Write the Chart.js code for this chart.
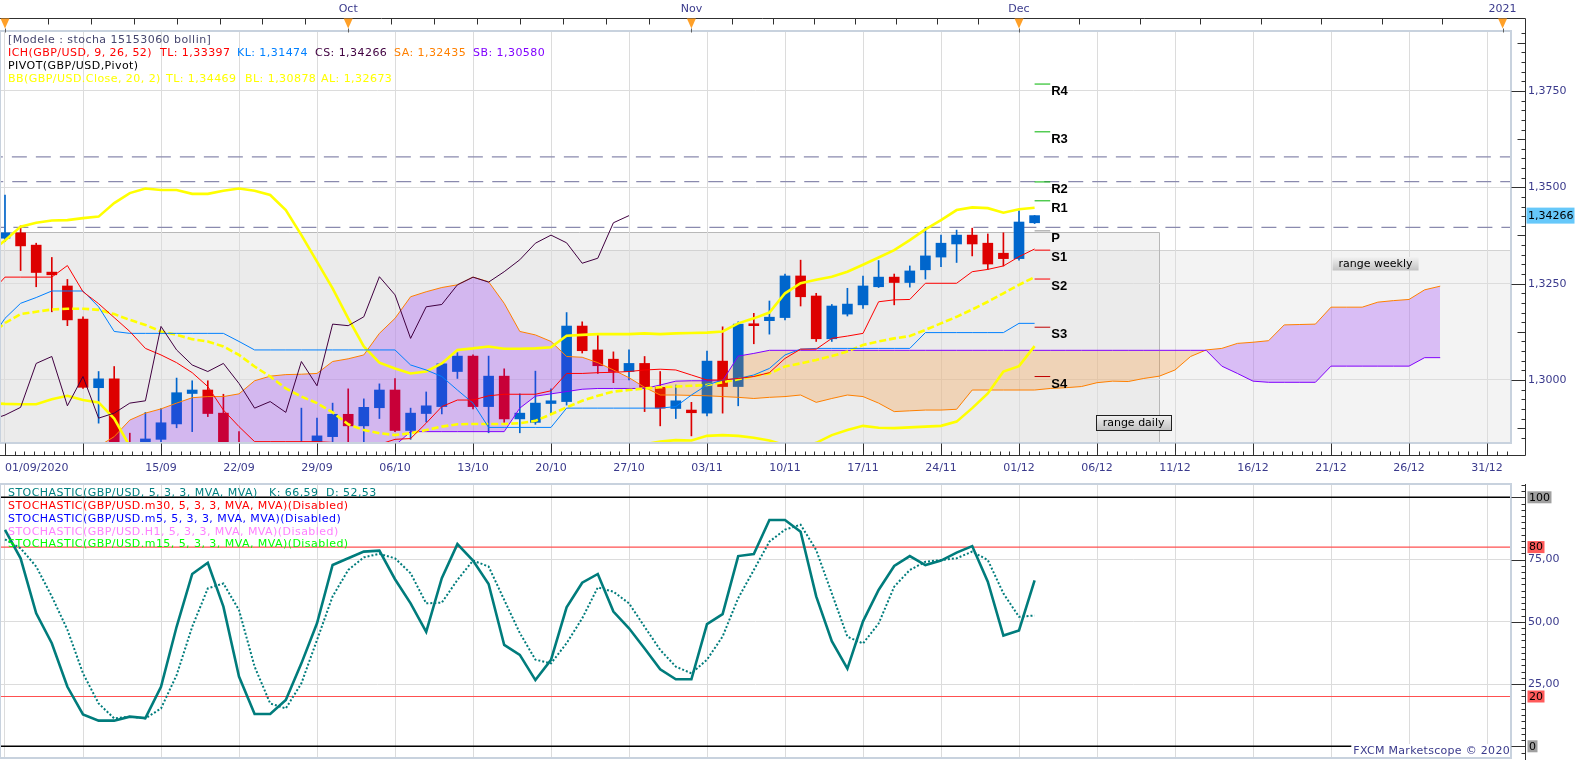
<!DOCTYPE html>
<html><head><meta charset="utf-8">
<title>GBP/USD daily – Ichimoku, Bollinger, Pivot, Stochastic</title>
<script src="https://cdn.jsdelivr.net/npm/chart.js@4.4.1/dist/chart.umd.min.js"></script>
<style>
html,body{margin:0;padding:0;background:#fff;}
#wrap{position:relative;width:1583px;height:760px;overflow:hidden;background:#fff;}
canvas{position:absolute;left:0;}
#c1{top:0;}
#c2{top:480px;}
.lg{position:absolute;font-family:"DejaVu Sans",sans-serif;font-size:11px;letter-spacing:0.45px;white-space:nowrap;line-height:13px;height:13px;}
</style></head>
<body><div id="wrap">
<canvas id="c1" width="1583" height="480"></canvas>
<canvas id="c2" width="1583" height="280"></canvas>

<div class="lg" style="left:8px;top:32.5px;color:#46466e">[Modele : stocha 15153060 bollin]</div>
<div class="lg" style="left:8px;top:45.5px;color:#ff0000">ICH(GBP/USD, 9, 26, 52)</div>
<div class="lg" style="left:160px;top:45.5px;color:#ff0000">TL: 1,33397</div>
<div class="lg" style="left:237px;top:45.5px;color:#0080ff">KL: 1,31474</div>
<div class="lg" style="left:315px;top:45.5px;color:#400040">CS: 1,34266</div>
<div class="lg" style="left:394px;top:45.5px;color:#ff8000">SA: 1,32435</div>
<div class="lg" style="left:473px;top:45.5px;color:#8000ff">SB: 1,30580</div>
<div class="lg" style="left:8px;top:58.5px;color:#000000">PIVOT(GBP/USD,Pivot)</div>
<div class="lg" style="left:8px;top:71.5px;color:#ffff00">BB(GBP/USD.Close, 20, 2)</div>
<div class="lg" style="left:166px;top:71.5px;color:#ffff00">TL: 1,34469</div>
<div class="lg" style="left:245px;top:71.5px;color:#ffff00">BL: 1,30878</div>
<div class="lg" style="left:321px;top:71.5px;color:#ffff00">AL: 1,32673</div>

<div class="lg" style="left:8px;top:486px;color:#008080">STOCHASTIC(GBP/USD, 5, 3, 3, MVA, MVA)</div>
<div class="lg" style="left:269px;top:486px;color:#008080">K: 66,59</div>
<div class="lg" style="left:326px;top:486px;color:#008080">D: 52,53</div>
<div class="lg" style="left:8px;top:499px;color:#ff0000">STOCHASTIC(GBP/USD.m30, 5, 3, 3, MVA, MVA)(Disabled)</div>
<div class="lg" style="left:8px;top:512px;color:#0000ff">STOCHASTIC(GBP/USD.m5, 5, 3, 3, MVA, MVA)(Disabled)</div>
<div class="lg" style="left:8px;top:524.5px;color:#ff80ff">STOCHASTIC(GBP/USD.H1, 5, 3, 3, MVA, MVA)(Disabled)</div>
<div class="lg" style="left:8px;top:537px;color:#00ff00">STOCHASTIC(GBP/USD.m15, 5, 3, 3, MVA, MVA)(Disabled)</div>
</div>

<script>
// ======================= DATA =======================
// x = trading-bar index (0 = 01/09/2020, 65 = 01/12/2020), future bars one per day
const xTickIdx    = [0,5,10,15,20,25,30,35,40,45,50,55,60,65,70,75,80,85,90,95];
const xTickLabels = ['01/09/2020','','15/09','22/09','29/09','06/10','13/10','20/10','27/10','03/11','10/11','17/11','24/11','01/12','06/12','11/12','16/12','21/12','26/12','31/12'];
const monthIdx    = [0,22,44,65,96];
const monthLabels = ['','Oct','Nov','Dec','2021'];
const priceTicks  = [1.3000,1.3250,1.3500,1.3750];
const stochTicks  = [25,50,75];
const stochLevels = [100,80,20,0];

// daily candles, bars 0..66
const open = [1.3368,1.3382,1.3350,1.3280,1.3244,1.3158,1.2980,1.3003,1.2795,1.2793,
 1.2846,1.2886,1.2965,1.2974,1.2914,1.2795,1.2733,1.2727,1.2747,1.2760,
 1.2815,1.2853,1.2911,1.2881,1.2928,1.2974,1.2869,1.2913,1.2931,1.3022,
 1.3062,1.2931,1.3010,1.2899,1.2890,1.2939,1.2944,1.3140,1.3078,1.3054,
 1.3022,1.3043,1.2981,1.2926,1.2922,1.2914,1.3049,1.2983,1.3146,1.3154,
 1.3162,1.3270,1.3218,1.3107,1.3171,1.3195,1.3242,1.3267,1.3253,1.3286,
 1.3319,1.3353,1.3376,1.3355,1.3329,1.3315,1.3408];
const high = [1.3480,1.3400,1.3355,1.3318,1.3261,1.3164,1.3022,1.3035,1.2862,1.2916,
 1.2926,1.3005,1.2998,1.2998,1.2963,1.2866,1.2805,1.2775,1.2780,1.2927,
 1.2901,1.2940,1.2977,1.2951,1.2990,1.3004,1.2927,1.2969,1.3045,1.3071,
 1.3065,1.3062,1.3029,1.2964,1.3023,1.2977,1.3175,1.3151,1.3119,1.3073,
 1.3078,1.3061,1.3022,1.2987,1.2942,1.3075,1.3138,1.3151,1.3173,1.3205,
 1.3275,1.3311,1.3225,1.3196,1.3238,1.3270,1.3310,1.3275,1.3296,1.3396,
 1.3376,1.3389,1.3394,1.3379,1.3382,1.3439,1.3427];
const low = [1.3359,1.3284,1.3242,1.3177,1.3141,1.2978,1.2888,1.2762,1.2760,1.2780,
 1.2830,1.2876,1.2866,1.2905,1.2765,1.2720,1.2687,1.2690,1.2710,1.2750,
 1.2805,1.2840,1.2820,1.2820,1.2900,1.2866,1.2846,1.2891,1.2912,1.3004,
 1.2925,1.2863,1.2890,1.2863,1.2885,1.2911,1.2935,1.3070,1.3017,1.2993,
 1.3000,1.2918,1.2881,1.2900,1.2855,1.2907,1.2914,1.2933,1.3094,1.3119,
 1.3156,1.3192,1.3100,1.3100,1.3166,1.3186,1.3240,1.3195,1.3241,1.3262,
 1.3294,1.3305,1.3322,1.3287,1.3296,1.3311,1.3406];
const close = [1.3382,1.3348,1.3279,1.3273,1.3156,1.2981,1.3003,1.2795,1.2793,1.2847,
 1.2889,1.2967,1.2974,1.2913,1.2795,1.2733,1.2727,1.2747,1.2760,1.2830,
 1.2855,1.2911,1.2881,1.2929,1.2974,1.2869,1.2914,1.2933,1.3042,1.3062,
 1.2931,1.3010,1.2899,1.2914,1.2940,1.2946,1.3140,1.3076,1.3037,1.3022,
 1.3043,1.2981,1.2927,1.2946,1.2915,1.3049,1.2983,1.3145,1.3141,1.3163,
 1.3270,1.3216,1.3107,1.3192,1.3197,1.3244,1.3267,1.3253,1.3283,1.3322,
 1.3355,1.3376,1.3353,1.3301,1.3315,1.3410,1.34266];

// Ichimoku lines (first value = bar -1)
const tenkan = [1.3222,
 1.3267,1.3267,1.3267,1.3267,1.3297,1.3229,1.3198,1.3162,1.3126,1.3082,
 1.3065,1.3045,1.3019,1.2983,1.2922,1.2879,1.2840,1.2840,1.2840,1.2840,
 1.2840,1.2838,1.2833,1.2833,1.2833,1.2846,1.2848,1.2888,1.2931,1.2948,
 1.2948,1.2959,1.2963,1.2963,1.2963,1.2972,1.3017,1.3017,1.3019,1.3020,
 1.3022,1.3026,1.3028,1.3026,1.3013,1.3000,1.3000,1.3004,1.3009,1.3019,
 1.3056,1.3080,1.3080,1.3108,1.3114,1.3121,1.3203,1.3208,1.3209,1.3251,
 1.3251,1.3251,1.3281,1.3287,1.3296,1.3320,1.3340];
const kijun = [1.3100,
 1.3160,1.3199,1.3214,1.3231,1.3231,1.3231,1.3190,1.3126,1.3121,1.3121,
 1.3121,1.3121,1.3121,1.3121,1.3121,1.3100,1.3078,1.3078,1.3078,1.3078,
 1.3078,1.3078,1.3078,1.3078,1.3078,1.3078,1.3039,1.3026,1.3009,1.2974,
 1.2940,1.2877,1.2877,1.2877,1.2877,1.2877,1.2927,1.2927,1.2927,1.2927,
 1.2927,1.2927,1.2927,1.2931,1.2961,1.2987,1.3000,1.3004,1.3013,1.3030,
 1.3065,1.3080,1.3082,1.3082,1.3082,1.3082,1.3082,1.3082,1.3082,1.3123,
 1.3123,1.3123,1.3123,1.3123,1.3123,1.3147,1.3147];
const chikou = [1.2895,
 1.2909,1.2929,1.3043,1.3061,1.2933,1.3009,1.2901,1.2914,1.2940,1.2946,
 1.3139,1.3078,1.3039,1.3022,1.3043,1.2991,1.2927,1.2944,1.2916,1.3048,
 1.2985,1.3145,1.3141,1.3164,1.3268,1.3221,1.3108,1.3190,1.3196,1.3247,
 1.3267,1.3254,1.3281,1.3312,1.3355,1.3376,1.3356,1.3303,1.3316,1.3408,
 1.34266];
const senkouA = [1.2790,
 1.2790,1.2795,1.2800,1.2805,1.2810,1.2818,1.2828,1.2853,1.2896,1.2914,
 1.2925,1.2940,1.2954,1.2957,1.2957,1.2964,1.2998,1.3010,1.3014,1.3015,
 1.3017,1.3048,1.3055,1.3065,1.3121,1.3160,1.3216,1.3229,1.3240,1.3247,
 1.3267,1.3255,1.3199,1.3126,1.3117,1.3100,1.3061,1.3059,1.3045,1.3026,
 1.3006,1.2981,1.2961,1.2961,1.2960,1.2959,1.2957,1.2955,1.2952,1.2955,
 1.2957,1.2961,1.2942,1.2952,1.2961,1.2957,1.2940,1.2918,1.2920,1.2922,
 1.2922,1.2924,1.2974,1.2974,1.2974,1.2974,1.2974,1.2978,1.2980,1.2983,
 1.2993,1.2997,1.2996,1.3004,1.3010,1.3026,1.3061,1.3078,1.3082,1.3095,
 1.3098,1.3102,1.3143,1.3144,1.3145,1.3189,1.3189,1.3189,1.3202,1.3206,
 1.3209,1.3234,1.32435];
const senkouB = [1.2780,
 1.2780,1.2780,1.2780,1.2780,1.2780,1.2780,1.2780,1.2780,1.2780,1.2780,
 1.2780,1.2780,1.2780,1.2780,1.2780,1.2780,1.2780,1.2780,1.2780,1.2780,
 1.2780,1.2780,1.2780,1.2780,1.2780,1.2830,1.2866,1.2866,1.2866,1.2866,
 1.2866,1.2866,1.2866,1.2927,1.2958,1.2964,1.2970,1.2976,1.2978,1.2978,
 1.2978,1.2978,1.2987,1.2997,1.2998,1.2998,1.2998,1.3062,1.3069,1.3077,
 1.3077,1.3077,1.3077,1.3077,1.3077,1.3077,1.3077,1.3077,1.3077,1.3077,
 1.3077,1.3077,1.3077,1.3077,1.3077,1.3077,1.3077,1.3077,1.3077,1.3077,
 1.3077,1.3077,1.3077,1.3077,1.3077,1.3077,1.3077,1.3077,1.3036,1.3017,
 1.2997,1.2994,1.2994,1.2994,1.2994,1.3036,1.3036,1.3036,1.3036,1.3036,
 1.3036,1.3058,1.3058];

// Bollinger bands (first value = bar -1)
const bbUpper = [1.3330,
 1.3362,1.3398,1.3408,1.3414,1.3415,1.3420,1.3424,1.3459,1.3485,1.3497,
 1.3493,1.3493,1.3483,1.3483,1.3491,1.3497,1.3491,1.3480,1.3441,1.3376,
 1.3307,1.3238,1.3160,1.3087,1.3045,1.3030,1.3017,1.3022,1.3043,1.3078,
 1.3082,1.3087,1.3081,1.3081,1.3082,1.3085,1.3115,1.3117,1.3119,1.3119,
 1.3119,1.3121,1.3119,1.3121,1.3122,1.3123,1.3126,1.3147,1.3160,1.3175,
 1.3225,1.3251,1.3260,1.3268,1.3281,1.3299,1.3318,1.3337,1.3363,1.3391,
 1.3415,1.3441,1.3448,1.3446,1.3434,1.3443,1.3447];
const bbMiddle = [1.3115,
 1.3148,1.3171,1.3177,1.3183,1.3185,1.3185,1.3182,1.3171,1.3156,1.3143,
 1.3126,1.3117,1.3106,1.3100,1.3087,1.3065,1.3035,1.3009,1.2978,1.2957,
 1.2940,1.2916,1.2885,1.2870,1.2862,1.2857,1.2862,1.2870,1.2879,1.2885,
 1.2886,1.2886,1.2886,1.2888,1.2894,1.2911,1.2929,1.2946,1.2959,1.2970,
 1.2974,1.2978,1.2981,1.2983,1.2985,1.2987,1.2994,1.3002,1.3010,1.3017,
 1.3035,1.3043,1.3052,1.3062,1.3074,1.3091,1.3100,1.3108,1.3114,1.3130,
 1.3147,1.3164,1.3183,1.3203,1.3225,1.3247,1.3267];
const bbLower = [1.2940,
 1.2938,1.2937,1.2937,1.2950,1.2959,1.2948,1.2942,1.2900,1.2828,1.2790,
 1.2760,1.2740,1.2730,1.2720,1.2690,1.2640,1.2590,1.2560,1.2540,1.2545,
 1.2560,1.2590,1.2610,1.2650,1.2680,1.2685,1.2700,1.2720,1.2720,1.2690,
 1.2690,1.2690,1.2690,1.2700,1.2705,1.2740,1.2745,1.2775,1.2800,1.2820,
 1.2830,1.2833,1.2840,1.2844,1.2843,1.2855,1.2857,1.2855,1.2850,1.2843,
 1.2831,1.2823,1.2837,1.2857,1.2870,1.2881,1.2876,1.2875,1.2877,1.2879,
 1.2881,1.2892,1.2927,1.2965,1.3022,1.3036,1.3088];

// pivot levels (drawn for bar 66)
const pivotNames  = ['R4','R3','R2','R1','P','S1','S2','S3','S4'];
const pivotValues = [1.3768,1.3644,1.3514,1.3465,1.3387,1.3337,1.3262,1.3137,1.3009];

// dashed reference levels: [before, after] and the bar where they step
const guideA = [1.3575,1.3579]; const guideAStep = 38;
const guideB = [1.3518,1.3515]; const guideBStep = 36;
const guideC = [1.3396,1.3396]; const guideCStep = 0;

// range boxes
const rangeDailyTop = 1.33833;  const rangeDailyEnd = 74;
const rangeWeeklyTop = 1.33366;

// stochastic %K and %D, bars 0..66
const stochK = [86.9,75.5,53.4,41.4,23.9,12.8,10.3,10.3,11.9,11.3,
 23.9,48.0,69.2,73.7,56.1,28.0,13.0,13.0,18.6,33.3,
 49.4,72.8,75.5,78.2,78.6,67.1,57.4,46.0,67.5,81.2,
 74.6,65.2,40.7,36.7,26.6,34.7,55.8,65.7,69.2,54.1,
 47.4,39.3,30.9,26.9,26.9,49.1,53.1,76.4,77.2,90.9,
 90.9,86.2,60.2,42.2,31.2,50.2,62.8,72.4,76.4,72.8,
 74.6,77.8,80.4,66.1,44.5,46.5,66.59];
const stochD = [83.1,79.5,72.2,60.2,46.8,29.3,17.2,11.2,11.9,11.2,
 15.2,28.6,48.0,63.4,65.4,54.7,32.0,17.2,15.2,25.3,
 42.7,60.2,70.8,75.9,77.3,75.5,69.5,57.4,57.7,66.8,
 74.6,72.2,58.8,45.5,34.8,33.3,41.4,51.4,63.8,62.1,
 57.4,48.0,38.7,32.0,29.3,34.8,44.1,59.5,70.8,82.2,
 87.0,89.0,78.8,61.4,44.0,41.3,49.3,64.1,70.8,74.1,
 74.8,75.5,78.2,74.8,61.4,52.0,52.53];

// ======================= STYLE / LAYOUT =======================
const X_MIN = -0.3205, X_MAX = 96.538;
const Y_MIN = 1.28365, Y_MAX = 1.39057;
const S_MIN = -4.70, S_MAX = 105.34;
const FONT = '"DejaVu Sans", sans-serif';
const AXIS_TXT = '#3a3a8c', GRID = '#dcdcdc', FRAME = '#c8d2de', AXIS_LINE = '#303030';
const UP = '#0066cc', DN = '#dd0000';
const pivotColor = n => n[0] === 'R' ? '#00b400' : (n === 'P' ? '#909090' : (n === 'S1' || n === 'S2' ? '#ff0000' : '#c00000'));

Chart.defaults.font.family = FONT;
Chart.defaults.font.size = 11;
Chart.defaults.animation = false;
Chart.defaults.elements.point.radius = 0;
Chart.defaults.elements.line.tension = 0;
Chart.defaults.plugins.legend.display = false;
Chart.defaults.plugins.tooltip.enabled = false;

const pts = (arr, start) => arr.map((v, k) => ({ x: k + start, y: v }));
const candleColor = c => (close[c.dataIndex] >= open[c.dataIndex] ? UP : DN);
const fmtPrice = v => v.toFixed(4).replace('.', ',');

function xScale(showLabels) {
  return {
    type: 'linear', min: X_MIN, max: X_MAX, bounds: 'data', offset: false,
    afterBuildTicks: s => { s.ticks = xTickIdx.map(v => ({ value: v })).concat([{ value: X_MAX }]); },
    ticks: { display: showLabels, autoSkip: false, maxRotation: 0, minRotation: 0, align: 'inner', padding: 19,
      color: AXIS_TXT, font: { size: 11 }, callback: (v, i) => (i < xTickLabels.length ? xTickLabels[i] : '') },
    grid: { color: c => (c.tick && c.tick.value > 96) ? 'rgba(0,0,0,0)' : GRID, drawTicks: false, offset: false, lineWidth: 1 },
    border: { display: false },
    afterFit: s => { s.height = showLabels ? 37 : 0; s.paddingLeft = 0; s.paddingRight = 0; }
  };
}
function guideDs(g, step) {
  return { type: 'line', data: [{ x: -1, y: g[0] }, { x: step, y: g[1] }, { x: 98, y: g[1] }], stepped: 'after',
    borderColor: '#8a8aae', borderWidth: 1.3, borderDash: [15, 9], order: 150 };
}
function lineDs(arr, start, color, width, order, extra) {
  return Object.assign({ type: 'line', data: pts(arr, start), borderColor: color, borderWidth: width, order: order }, extra || {});
}

// ---------- top chart ----------
const topDatasets = [
  guideDs(guideA, guideAStep),                                   // 0
  guideDs(guideB, guideBStep),                                   // 1
  guideDs(guideC, guideCStep),                                   // 2
  { type: 'bar', data: low.map((l, i) => ({ x: i, y: [l, high[i]] })), backgroundColor: candleColor,
    barThickness: 1, grouped: false, borderWidth: 0, order: 100 }, // 3 wicks
  { type: 'bar', data: open.map((o, i) => ({ x: i, y: [o, close[i]] })), backgroundColor: candleColor,
    barThickness: 10, grouped: false, borderWidth: 0, order: 99 },  // 4 bodies
  lineDs(senkouB, -1, '#8000ff', 1, 48),                          // 5
  lineDs(senkouA, -1, '#ff8000', 1, 49, { fill: { target: 5, above: 'rgba(128,0,255,0.22)', below: 'rgba(255,128,0,0.22)' } }), // 6
  lineDs(bbUpper, -1, '#ffff00', 2.6, 40),
  lineDs(bbLower, -1, '#ffff00', 2.6, 40),
  lineDs(bbMiddle, -1, '#ffff00', 2.6, 41, { borderDash: [7, 3] }),
  lineDs(kijun, -1, '#0080ff', 1, 32),
  lineDs(tenkan, -1, '#ff0000', 1, 31),
  lineDs(chikou, -1, '#400040', 1, 30)
];
pivotNames.forEach((n, k) => {
  topDatasets.push({ type: 'line', data: [{ x: 66, y: pivotValues[k] }, { x: 67, y: pivotValues[k] }],
    borderColor: pivotColor(n), borderWidth: 1, order: 20 });
});

const topDeco = {
  id: 'topDeco',
  beforeDraw(chart) {
    const { ctx, chartArea: a, scales: { x, y } } = chart;
    ctx.save();
    ctx.beginPath(); ctx.rect(a.left, a.top, a.right - a.left, a.bottom - a.top); ctx.clip();
    const wTop = y.getPixelForValue(rangeWeeklyTop);
    const dTop = y.getPixelForValue(rangeDailyTop), dR = Math.round(x.getPixelForValue(rangeDailyEnd)) + 0.5;
    // weekly range only
    ctx.fillStyle = '#f3f3f3'; ctx.fillRect(a.left, wTop, a.right - a.left, a.bottom - wTop);
    // daily range only (above weekly top) and overlap
    ctx.fillStyle = '#f2f2f2'; ctx.fillRect(a.left, dTop, dR - a.left, wTop - dTop);
    ctx.fillStyle = '#ebebeb'; ctx.fillRect(a.left, wTop, dR - a.left, a.bottom - wTop);
    ctx.lineWidth = 1;
    ctx.strokeStyle = '#d2d2d2';
    ctx.beginPath(); ctx.moveTo(a.left, Math.round(wTop) + 0.5); ctx.lineTo(a.right, Math.round(wTop) + 0.5); ctx.stroke();
    ctx.strokeStyle = '#b8b8b8';
    ctx.beginPath(); ctx.moveTo(a.left, Math.round(dTop) + 0.5); ctx.lineTo(dR, Math.round(dTop) + 0.5); ctx.lineTo(dR, a.bottom); ctx.stroke();
    ctx.restore();
  },
  afterDraw(chart) {
    const { ctx, chartArea: a, scales: { x, y } } = chart;
    const axX = Math.round(a.right + 14) + 0.5;
    const axY = Math.round(a.bottom + 12) + 0.5;
    const bandY = 18.5;
    ctx.save();
    // panel frame
    ctx.strokeStyle = FRAME; ctx.lineWidth = 2;
    ctx.strokeRect(a.left, a.top, a.right - a.left, a.bottom - a.top);
    // axis lines
    ctx.strokeStyle = AXIS_LINE; ctx.lineWidth = 1;
    ctx.beginPath();
    ctx.moveTo(0, bandY); ctx.lineTo(axX, bandY);
    ctx.moveTo(axX, bandY); ctx.lineTo(axX, axY);
    ctx.moveTo(0, axY); ctx.lineTo(axX, axY);
    // bottom ticks
    for (let n = Math.ceil(x.min / 0.625); n * 0.625 <= x.max; n++) {
      const px = Math.round(x.getPixelForValue(n * 0.625)) + 0.5;
      const len = (n % 8 === 0) ? 12 : 4;
      ctx.moveTo(px, axY - len); ctx.lineTo(px, axY);
    }
    // right ticks
    for (let n = Math.ceil(y.min / 0.0025); n * 0.0025 <= y.max; n++) {
      const py = Math.round(y.getPixelForValue(n * 0.0025)) + 0.5;
      const len = (n % 10 === 0) ? 14 : (n % 5 === 0 ? 8 : 4);
      ctx.moveTo(axX - len, py); ctx.lineTo(axX, py);
    }
    // top band ticks (each month split in 8)
    for (let m = 0; m < monthIdx.length - 1; m++) {
      for (let k = 0; k < 8; k++) {
        const v = monthIdx[m] + k * (monthIdx[m + 1] - monthIdx[m]) / 8;
        const px = Math.round(x.getPixelForValue(v)) + 0.5;
        ctx.moveTo(px, bandY); ctx.lineTo(px, bandY + 6);
      }
    }
    ctx.stroke();
    // month markers
    ctx.font = '11px ' + FONT; ctx.textAlign = 'center'; ctx.textBaseline = 'middle';
    monthIdx.forEach((v, k) => {
      const px = x.getPixelForValue(v);
      ctx.fillStyle = '#ffa028';
      ctx.beginPath(); ctx.moveTo(px - 4.5, bandY); ctx.lineTo(px + 4.5, bandY); ctx.lineTo(px, bandY + 10); ctx.closePath(); ctx.fill();
      ctx.strokeStyle = '#606060'; ctx.beginPath(); ctx.moveTo(Math.round(px) + 0.5, bandY + 10); ctx.lineTo(Math.round(px) + 0.5, bandY + 14); ctx.stroke();
      if (monthLabels[k]) { ctx.fillStyle = AXIS_TXT; ctx.fillText(monthLabels[k], px, 9); }
    });
    // pivot labels
    ctx.font = 'bold 13px "Liberation Sans", sans-serif'; ctx.textAlign = 'left'; ctx.fillStyle = '#000';
    pivotNames.forEach((n, k) => {
      ctx.fillText(n, x.getPixelForValue(67) + 1, y.getPixelForValue(pivotValues[k]) + 7.5);
    });
    // range labels
    const label = (txt, vx, vy, w, h, border) => {
      const lx = x.getPixelForValue(vx), ty = y.getPixelForValue(vy);
      const g = ctx.createLinearGradient(0, ty, 0, ty + h);
      g.addColorStop(0, '#f2f2f2'); g.addColorStop(1, '#c2c2c2');
      ctx.fillStyle = g; ctx.fillRect(lx, ty, w, h);
      if (border) { ctx.strokeStyle = '#202020'; ctx.lineWidth = 1; ctx.strokeRect(Math.round(lx) + 0.5, Math.round(ty) + 0.5, w, h); }
      ctx.fillStyle = '#000'; ctx.font = '11px ' + FONT; ctx.textAlign = 'center'; ctx.textBaseline = 'middle';
      ctx.fillText(txt, lx + w / 2, ty + h / 2 + 0.5);
    };
    label('range weekly', 85.1, 1.33192, 86, 13.5, false);
    label('range daily', 69.94, 1.29092, 75, 15, true);
    // last price box
    const py = y.getPixelForValue(close[close.length - 1]);
    ctx.fillStyle = '#66c8fa'; ctx.fillRect(a.right + 15.5, py - 8, 48, 16);
    ctx.fillStyle = '#000'; ctx.font = '11px ' + FONT; ctx.textAlign = 'left'; ctx.textBaseline = 'middle';
    ctx.fillText(close[close.length - 1].toFixed(5).replace('.', ','), a.right + 17, py + 0.5);
    ctx.restore();
  }
};

new Chart(document.getElementById('c1'), {
  type: 'line',
  data: { datasets: topDatasets },
  options: {
    responsive: false, events: [],
    layout: { padding: { top: 31, left: 0, right: 0, bottom: 0 } },
    scales: {
      x: xScale(true),
      y: {
        type: 'linear', position: 'right', min: Y_MIN, max: Y_MAX, bounds: 'data', beginAtZero: false,
        afterBuildTicks: s => { s.ticks = priceTicks.map(v => ({ value: v })); },
        ticks: { padding: 17, color: AXIS_TXT, font: { size: 11 }, callback: v => fmtPrice(v) },
        grid: { color: GRID, drawTicks: false },
        border: { display: false },
        afterFit: s => { s.width = 72; s.paddingTop = 0; s.paddingBottom = 0; }
      }
    }
  },
  plugins: [topDeco]
});

// ---------- stochastic chart ----------
const stochDatasets = [
  { type: 'line', data: pts(stochK, 0), borderColor: '#007c7c', borderWidth: 2.6, order: 2 },
  { type: 'line', data: pts(stochD, 0), borderColor: '#007c7c', borderWidth: 2, borderDash: [2, 2], order: 3 }
];
stochLevels.forEach(v => {
  const black = (v === 0 || v === 100);
  stochDatasets.push({ type: 'line', data: [{ x: -1, y: v }, { x: 98, y: v }],
    borderColor: black ? '#000000' : '#ff5050', borderWidth: black ? 1.6 : 1.2, order: 10 });
});

const stochDeco = {
  id: 'stochDeco',
  afterDraw(chart) {
    const { ctx, chartArea: a, scales: { y } } = chart;
    const axX = Math.round(a.right + 14) + 0.5;
    ctx.save();
    // copyright text with white background
    ctx.font = '11px ' + FONT; ctx.textAlign = 'right'; ctx.textBaseline = 'middle';
    try { ctx.letterSpacing = '0.3px'; } catch (e) {}
    const txt = 'FXCM Marketscope \u00A9 2020';
    const w = ctx.measureText(txt).width;
    ctx.fillStyle = '#fff'; ctx.fillRect(a.right - w - 3, a.bottom - 14, w + 3, 14);
    ctx.fillStyle = AXIS_TXT; ctx.fillText(txt, a.right - 1, a.bottom - 6.5);
    try { ctx.letterSpacing = '0px'; } catch (e) {}
    // frame
    ctx.strokeStyle = FRAME; ctx.lineWidth = 2;
    ctx.strokeRect(a.left, a.top, a.right - a.left, a.bottom - a.top);
    // right axis
    ctx.strokeStyle = AXIS_LINE; ctx.lineWidth = 1;
    ctx.beginPath();
    ctx.moveTo(axX, a.top); ctx.lineTo(axX, chart.height);
    for (let n = Math.ceil(y.min / 2.5); n * 2.5 <= y.max; n++) {
      const py = Math.round(y.getPixelForValue(n * 2.5)) + 0.5;
      const len = (n % 10 === 0) ? 14 : 4;
      ctx.moveTo(axX - len, py); ctx.lineTo(axX, py);
    }
    ctx.stroke();
    // level boxes
    ctx.font = '11px ' + FONT; ctx.textAlign = 'left'; ctx.textBaseline = 'middle';
    stochLevels.forEach(v => {
      const s = String(v), tw = ctx.measureText(s).width, py = y.getPixelForValue(v);
      ctx.fillStyle = (v === 0 || v === 100) ? '#a0a0a0' : '#ff5a5a';
      ctx.fillRect(a.right + 16.5, py - 6, tw + 3, 12);
      ctx.fillStyle = '#000'; ctx.fillText(s, a.right + 18, py + 0.5);
    });
    ctx.restore();
  }
};

new Chart(document.getElementById('c2'), {
  type: 'line',
  data: { datasets: stochDatasets },
  options: {
    responsive: false, events: [],
    layout: { padding: { top: 4, left: 0, right: 0, bottom: 2 } },
    scales: {
      x: xScale(false),
      y: {
        type: 'linear', position: 'right', min: S_MIN, max: S_MAX, bounds: 'data',
        afterBuildTicks: s => { s.ticks = stochTicks.map(v => ({ value: v })); },
        ticks: { padding: 17, color: AXIS_TXT, font: { size: 11 }, callback: v => v.toFixed(2).replace('.', ',') },
        grid: { color: GRID, drawTicks: false },
        border: { display: false },
        afterFit: s => { s.width = 72; s.paddingTop = 0; s.paddingBottom = 0; }
      }
    }
  },
  plugins: [stochDeco]
});
</script>
</body></html>
